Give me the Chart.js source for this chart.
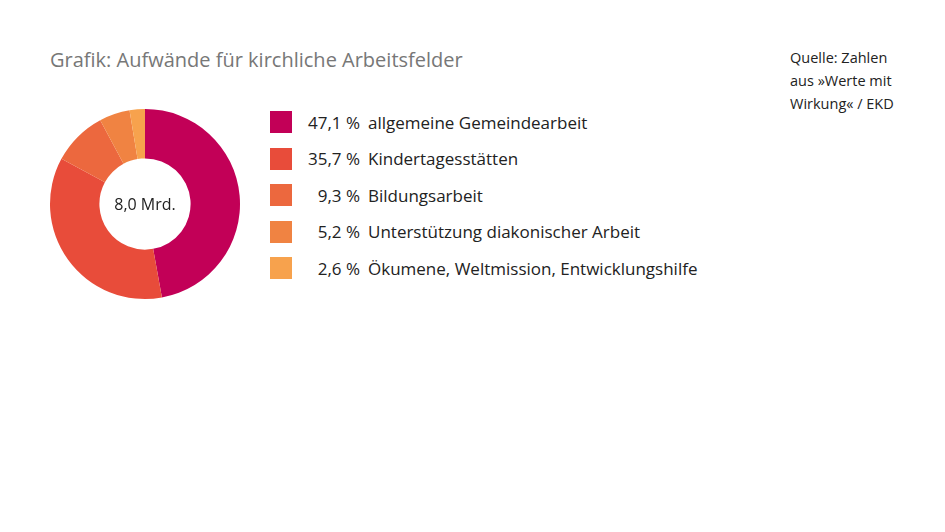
<!DOCTYPE html>
<html><head><meta charset="utf-8">
<script src="https://cdn.jsdelivr.net/npm/chart.js@4/dist/chart.umd.min.js"></script>
<style>
body{margin:0;width:945px;height:532px;background:#fff;font-family:"Source Sans Pro","Open Sans","Noto Sans",sans-serif;position:relative;overflow:hidden}
#title{position:absolute;left:50px;top:46px;font-size:20px;color:#777}
#src{position:absolute;left:790px;top:46px;font-size:14.5px;line-height:23px;color:#222}
#wrap{position:absolute;left:45px;top:104px;width:200px;height:200px}
#center{position:absolute;left:45px;top:104px;width:200px;height:200px;display:flex;align-items:center;justify-content:center;font-size:16px;color:#222;pointer-events:none}
#legend{position:absolute;left:270px;top:104px;font-size:17px;color:#222}
.row{height:36.5px;display:flex;align-items:center}
.sw{width:22px;height:22px;margin-right:10px}
.pct{width:58px;text-align:right;margin-right:8px}
</style></head><body>
<div id="title">Grafik: Aufwände für kirchliche Arbeitsfelder</div>
<div id="src">Quelle: Zahlen<br>aus »Werte mit<br>Wirkung« / EKD</div>
<div id="wrap"><canvas id="c"></canvas></div>
<div id="center">8,0 Mrd.</div>
<div id="legend"></div>
<script>
const labels = ['allgemeine Gemeindearbeit','Kindertagesstätten','Bildungsarbeit','Unterstützung diakonischer Arbeit','Ökumene, Weltmission, Entwicklungshilfe'];
const values = [47.1, 35.7, 9.3, 5.2, 2.6];
const colors = ['#c20057','#e84c3a','#ec683e','#f08342','#f7a24d'];

new Chart(document.getElementById('c'), {
  type: 'doughnut',
  data: { labels: labels, datasets: [{ data: values, backgroundColor: colors, borderWidth: 0 }] },
  options: {
    responsive: true, maintainAspectRatio: false, animation: false,
    cutout: '48%',
    layout: { padding: 5 },
    plugins: { legend: { display: false }, tooltip: { enabled: false } }
  }
});

const lg = document.getElementById('legend');
labels.forEach((l, i) => {
  lg.innerHTML += `<div class="row"><div class="sw" style="background:${colors[i]}"></div><div class="pct">${values[i].toFixed(1).replace('.', ',')} %</div><div>${l}</div></div>`;
});
</script>
</body></html>
